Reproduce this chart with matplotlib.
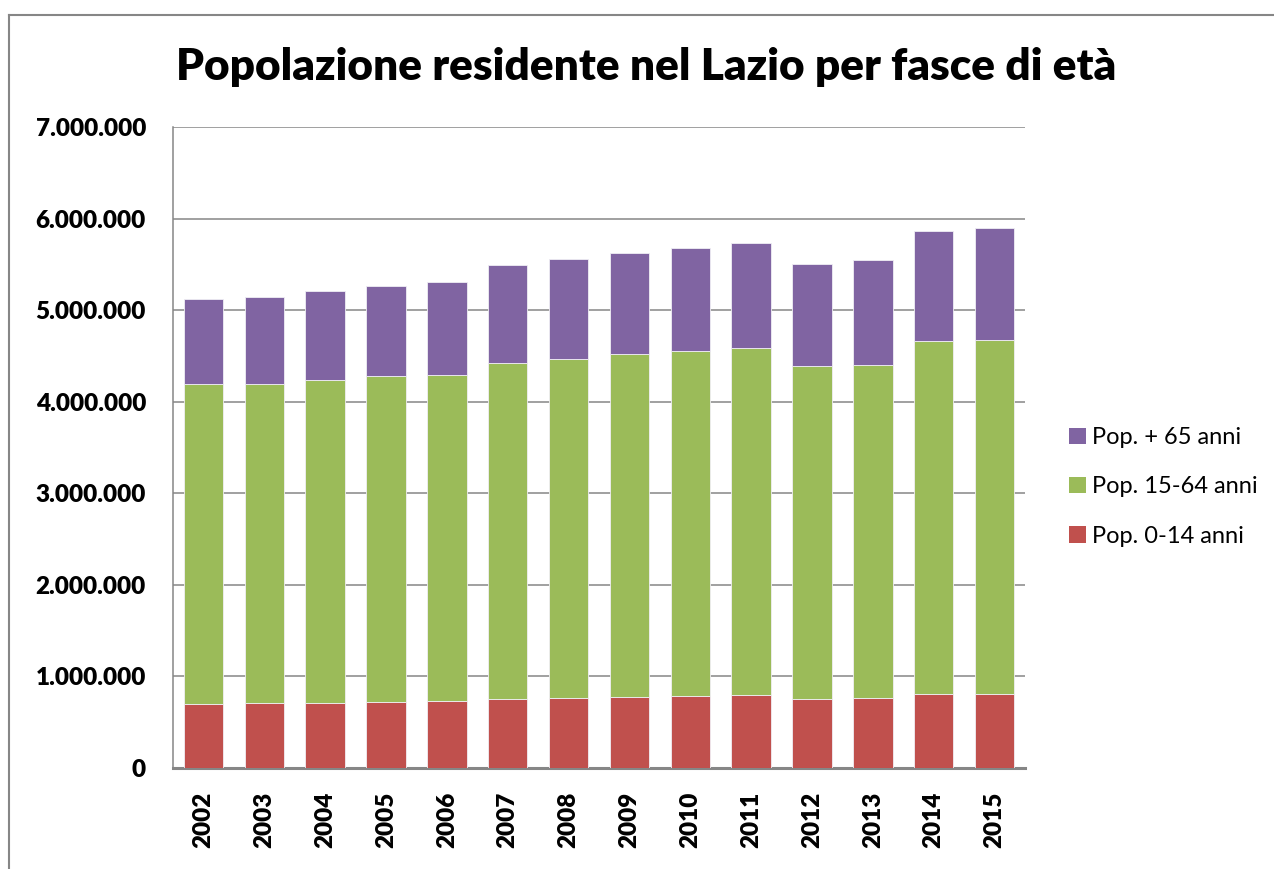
import matplotlib
matplotlib.use("Agg")
import matplotlib.pyplot as plt
import matplotlib.patches as mpatches
from matplotlib.lines import Line2D
from matplotlib.ticker import FuncFormatter
import numpy as np

plt.rcParams["font.family"] = ["Lato", "DejaVu Sans"]

YEARS = ["2002", "2003", "2004", "2005", "2006", "2007", "2008",
         "2009", "2010", "2011", "2012", "2013", "2014", "2015"]
POP_0_14 = [702000, 706000, 712000, 724000, 728000, 756000, 764000,
            779000, 786000, 794000, 753000, 764000, 804000, 808000]
POP_15_64 = [3490000, 3486000, 3524000, 3555000, 3562000, 3669000, 3704000,
             3741000, 3770000, 3794000, 3636000, 3639000, 3861000, 3864000]
POP_65 = [925000, 950000, 968000, 986000, 1012000, 1066000, 1089000,
          1106000, 1121000, 1140000, 1110000, 1150000, 1201000, 1220000]
LABELS = ["Pop. 0-14 anni", "Pop. 15-64 anni", "Pop. + 65 anni"]
COLORS = ["#C0504D", "#9BBB59", "#8064A2"]
TITLE = "Popolazione residente nel Lazio per fasce di età"

W_PX, H_PX, DPI = 1274, 869, 100
GRID = "#868686"

fig = plt.figure(figsize=(W_PX / DPI, H_PX / DPI), dpi=DPI)
ax = fig.add_axes([173 / W_PX, 1 - 768 / H_PX, (1025 - 173) / W_PX, (768 - 127) / H_PX])

x = np.arange(len(YEARS))
bottom = np.zeros(len(YEARS))
for vals, col, lab in zip([POP_0_14, POP_15_64, POP_65], COLORS, LABELS):
    vals = np.array(vals, dtype=float)
    ax.bar(x, vals, 0.65, bottom=bottom, color=col, label=lab,
           edgecolor="#f0eef4", linewidth=0.6, zorder=3)
    bottom += vals

ax.set_xlim(-0.5, len(YEARS) - 0.5)
ax.set_ylim(0, 7000000)
ax.set_yticks(np.arange(0, 7000001, 1000000))
ax.yaxis.set_major_formatter(FuncFormatter(lambda v, p: f"{int(v):,}".replace(",", ".")))
ax.set_xticks(x)
ax.set_xticklabels(YEARS, rotation=90)
for lbl in ax.get_xticklabels() + ax.get_yticklabels():
    lbl.set_fontweight("heavy")
    lbl.set_fontsize(17.5)
ax.tick_params(axis="both", length=0)
ax.tick_params(axis="y", pad=19.5)
ax.tick_params(axis="x", pad=17)

ax.grid(axis="y", color=GRID, linewidth=1.1, zorder=0)
ax.set_axisbelow(True)
for s in ("top", "right"):
    ax.spines[s].set_visible(False)
ax.spines["left"].set_color(GRID)
ax.spines["left"].set_linewidth(1.1)
ax.spines["bottom"].set_color(GRID)
ax.spines["bottom"].set_linewidth(2.2)

fig.text(646 / W_PX, 1 - 80 / H_PX, TITLE, ha="center", va="baseline",
         fontsize=31.8, fontweight="heavy")

handles = [mpatches.Patch(facecolor=COLORS[i], edgecolor="none", label=LABELS[i])
           for i in (2, 1, 0)]
fig.legend(handles=handles, loc="center left",
           bbox_to_anchor=(1048 / W_PX, 1 - 487 / H_PX), frameon=False,
           fontsize=17, labelspacing=1.2, handlelength=0.7, handleheight=0.7,
           handletextpad=0.25)

# outer chart frame
fig.add_artist(Line2D([9 / W_PX, 1.0], [1 - 15 / H_PX] * 2, color=GRID, lw=1.5,
                      transform=fig.transFigure))
fig.add_artist(Line2D([9 / W_PX] * 2, [0.0, 1 - 15 / H_PX], color=GRID, lw=1.5,
                      transform=fig.transFigure))

fig.savefig("out.png", dpi=DPI, facecolor="white")
